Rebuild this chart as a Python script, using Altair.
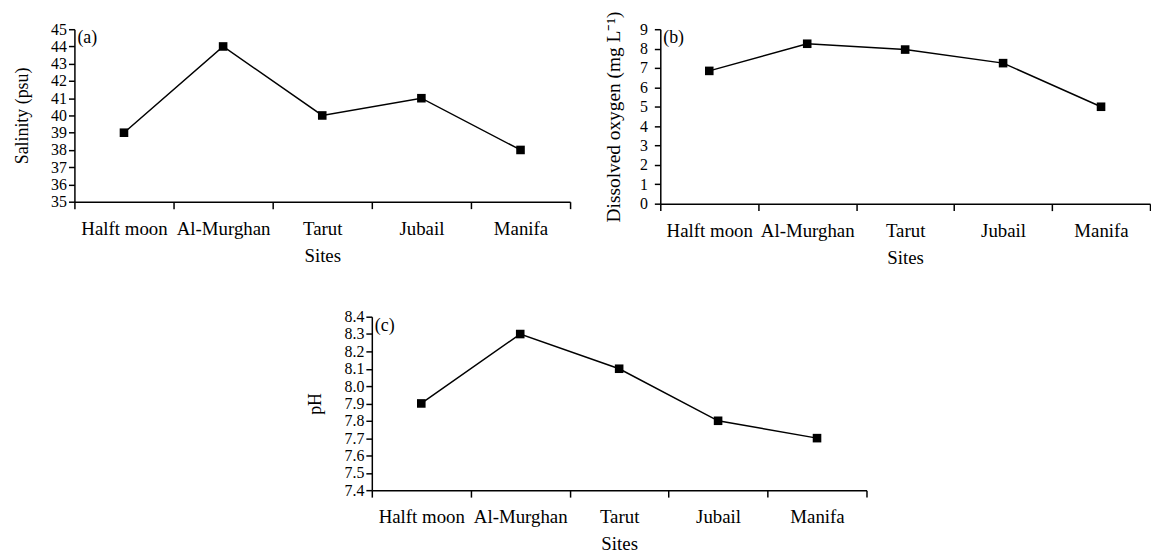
import altair as alt
import pandas as pd

sites = ["Halft moon", "Al-Murghan", "Tarut", "Jubail", "Manifa"]
salinity = [39, 44, 40, 41, 38]
oxygen = [6.85, 8.25, 7.95, 7.25, 5.0]
ph = [7.9, 8.3, 8.1, 7.8, 7.7]

sal_ticks = [35, 36, 37, 38, 39, 40, 41, 42, 43, 44, 45]
oxy_ticks = [0, 1, 2, 3, 4, 5, 6, 7, 8, 9]
ph_ticks = [7.4, 7.5, 7.6, 7.7, 7.8, 7.9, 8.0, 8.1, 8.2, 8.3, 8.4]

FONT = "Liberation Serif"


def panel(values, title, domain, ticks, fmt, tag, w, h,
          title_size=18, title_pad=10, label_pad=2):
    df = pd.DataFrame({"site": sites, "v": values})
    x = alt.X(
        "site:N",
        sort=sites,
        bandPosition=0.5,
        scale=alt.Scale(type="band", paddingInner=0, paddingOuter=0),
        axis=alt.Axis(
            title="Sites",
            labelAngle=0,
            tickBand="extent",
            tickSize=7,
            labelPadding=11,
            titlePadding=8,
            labelFontSize=19,
            titleFontSize=19,
        ),
    )
    y = alt.Y(
        "v:Q",
        scale=alt.Scale(domain=domain, nice=False, zero=False),
        axis=alt.Axis(
            title=title,
            values=ticks,
            format=fmt,
            labelOverlap=False,
            tickSize=6,
            labelPadding=label_pad,
            titlePadding=title_pad,
            labelFontSize=16,
            titleFontSize=title_size,
            grid=False,
        ),
    )
    base = alt.Chart(df).encode(x=x, y=y)
    line = base.mark_line(color="black", strokeWidth=1.5)
    pts = base.mark_point(shape="square", filled=True, size=75, color="black", opacity=1)
    lab = (
        alt.Chart(pd.DataFrame({"t": [tag]}))
        .mark_text(align="left", baseline="top", font=FONT, fontSize=18, color="black")
        .encode(text="t:N", x=alt.value(3), y=alt.value(0))
    )
    return alt.layer(line, pts, lab).properties(width=w, height=h)


a = panel(salinity, "Salinity (psu)", [35, 45], sal_ticks, "d", "(a)", 500, 174,
          title_pad=19)
b = panel(oxygen, "Dissolved oxygen (mg L\u207b\u00b9)", [0, 9], oxy_ticks, "d", "(b)", 494, 176,
          title_size=19.5, title_pad=16, label_pad=7)
c = panel(ph, "pH", [7.4, 8.4], ph_ticks, ".1f", "(c)", 499, 175, title_pad=20)

spacer = (
    alt.Chart(pd.DataFrame({"v": [0]}))
    .mark_point(opacity=0)
    .encode(x=alt.value(0), y=alt.value(0))
    .properties(width=224, height=10)
)

top = alt.hconcat(a, b, spacing=33)
bottom = alt.hconcat(spacer, c, spacing=10)
chart = (
    alt.vconcat(top, bottom, spacing=42)
    .properties(padding={"left": 6, "top": 0, "right": 0, "bottom": 0})
    .configure_view(stroke=None)
    .configure_axis(
        domainColor="black",
        domainWidth=1.5,
        tickColor="black",
        tickWidth=1.5,
        labelColor="black",
        titleColor="black",
        labelFont=FONT,
        titleFont=FONT,
        titleFontWeight="normal",
    )
)

chart.save("out.html", embed_options={"renderer": "svg", "actions": False})
